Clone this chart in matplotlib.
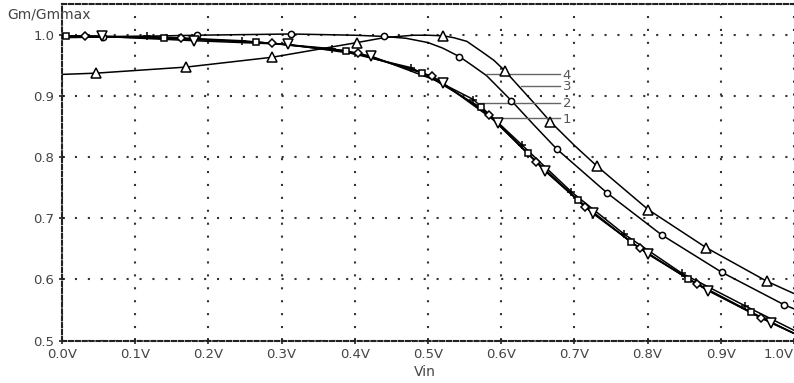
import numpy as np
import matplotlib.pyplot as plt

plt.rcParams['font.family'] = ['DejaVu Sans']

# --- данные ---
# кривая 4 (треугольники вверх)
c4_x = [0.0, 0.046, 0.17, 0.287, 0.35, 0.403, 0.44, 0.48, 0.50, 0.521, 0.535, 0.553, 0.576, 0.59,
        0.605, 0.62, 0.645, 0.667, 0.70, 0.731, 0.801, 0.880, 0.963, 1.0]
c4_y = [0.935, 0.937, 0.947, 0.963, 0.976, 0.987, 0.995, 0.999, 0.999, 0.998, 0.995, 0.989, 0.970, 0.958,
        0.941, 0.921, 0.888, 0.858, 0.819, 0.785, 0.714, 0.652, 0.597, 0.577]
c4_mx = [0.046, 0.17, 0.287, 0.403, 0.521, 0.605, 0.667, 0.731, 0.801, 0.880, 0.963]
c4_my = [0.937, 0.947, 0.963, 0.987, 0.998, 0.941, 0.858, 0.785, 0.714, 0.652, 0.597]

# кривая 3 (кружки)
c3_x = [0.0, 0.056, 0.184, 0.313, 0.40, 0.44, 0.47, 0.50, 0.52, 0.543, 0.56, 0.58, 0.614, 0.645,
        0.676, 0.745, 0.819, 0.901, 0.986, 1.0]
c3_y = [0.995, 0.996, 0.999, 1.001, 0.999, 0.997, 0.994, 0.987, 0.978, 0.964, 0.950, 0.933, 0.892, 0.852,
        0.813, 0.741, 0.673, 0.612, 0.559, 0.552]
c3_mx = [0.056, 0.184, 0.313, 0.44, 0.543, 0.614, 0.676, 0.745, 0.819, 0.901, 0.986]
c3_my = [0.996, 0.999, 1.001, 0.997, 0.964, 0.892, 0.813, 0.741, 0.673, 0.612, 0.559]

# нижний пучок: плюсы, квадраты, ромбы, треугольники вниз
pl_x = [0.0, 0.116, 0.246, 0.369, 0.477, 0.562, 0.629, 0.696, 0.768, 0.847, 0.933, 1.0]
pl_y = [0.997, 0.997, 0.990, 0.977, 0.946, 0.894, 0.819, 0.743, 0.674, 0.610, 0.557, 0.517]

sq_x = [0.0, 0.005, 0.139, 0.265, 0.388, 0.492, 0.572, 0.636, 0.705, 0.777, 0.855, 0.941, 1.0]
sq_y = [0.998, 0.998, 0.994, 0.988, 0.974, 0.938, 0.881, 0.806, 0.730, 0.661, 0.601, 0.547, 0.512]

di_x = [0.0, 0.031, 0.162, 0.287, 0.405, 0.506, 0.583, 0.648, 0.715, 0.789, 0.868, 0.955, 1.0]
di_y = [0.998, 0.998, 0.994, 0.986, 0.970, 0.932, 0.869, 0.792, 0.718, 0.651, 0.592, 0.537, 0.512]

td_x = [0.0, 0.054, 0.181, 0.309, 0.422, 0.520, 0.595, 0.660, 0.725, 0.801, 0.882, 0.969, 1.0]
td_y = [0.998, 0.997, 0.990, 0.984, 0.965, 0.921, 0.856, 0.777, 0.708, 0.641, 0.582, 0.529, 0.512]

# подписи кривых
lab_names = ['1', '2', '3', '4']
lab_y = [0.863, 0.889, 0.9165, 0.9356]
lab_from = [0.595, 0.567, 0.627, 0.579]

xticks = np.arange(0, 1.01, 0.1)
yticks = np.arange(0.5, 1.01, 0.1)

fig = plt.figure(figsize=(7.94, 3.83), dpi=100)
ax = fig.add_axes([62 / 794, (383 - 340.7) / 383, 732 / 794, 336.7 / 383])

lw = 1.1
for xs, ys in [(c4_x, c4_y), (c3_x, c3_y), (pl_x, pl_y), (sq_x, sq_y), (di_x, di_y), (td_x, td_y)]:
    ax.plot(xs, ys, color='black', lw=lw)

mk = dict(ls='none', mfc='white', mec='black', mew=1.1, zorder=5)
ax.plot(c4_mx, c4_my, marker='^', ms=7.5, **mk)
ax.plot(c3_mx, c3_my, marker='o', ms=4.5, **mk)
ax.plot(pl_x[1:-1], pl_y[1:-1], marker='+', ms=6, **mk)
ax.plot(sq_x[1:-1], sq_y[1:-1], marker='s', ms=5, **mk)
ax.plot(di_x[1:-1], di_y[1:-1], marker='D', ms=4.5, **mk)
ax.plot(td_x[1:-1], td_y[1:-1], marker='v', ms=7, **mk)

# линии-выноски и номера
for name, y, x0 in zip(lab_names, lab_y, lab_from):
    ax.plot([x0, 0.681], [y, y], color='#666666', lw=1.0, zorder=3)
    ax.text(0.684, y - 0.0075, name, color='#555555', fontsize=9.5, va='baseline', ha='left')

ax.set_xlim(0, 1.0)
ax.set_ylim(0.5, 1.05)
ax.set_xticks(xticks)
ax.set_xticklabels(['%.1fV' % v for v in xticks])
ax.set_yticks(yticks)
ax.set_yticklabels(['%.1f' % v for v in yticks])
ax.get_xticklabels()[-1].set_ha('right')

ax.grid(True, ls=(0, (1, 5.2)), lw=1.5, color='#333333')
ax.tick_params(direction='inout', length=5, width=1.2, color='#222222',
               labelsize=9.5, labelcolor='#444444', pad=3)

for side in ['left', 'bottom', 'top']:
    ax.spines[side].set_linestyle((0, (2, 1.3)))
    ax.spines[side].set_linewidth(1.5)
    ax.spines[side].set_color('#222222')
ax.spines['right'].set_visible(False)

fig.text(7 / 794, 1 - 15 / 383, 'Gm/Gmmax', fontsize=10, color='#444444', va='center', ha='left')
fig.text(425 / 794, 1 - 372 / 383, 'Vin', fontsize=10, color='#444444', va='center', ha='center')

fig.savefig('out.png', dpi=100)
